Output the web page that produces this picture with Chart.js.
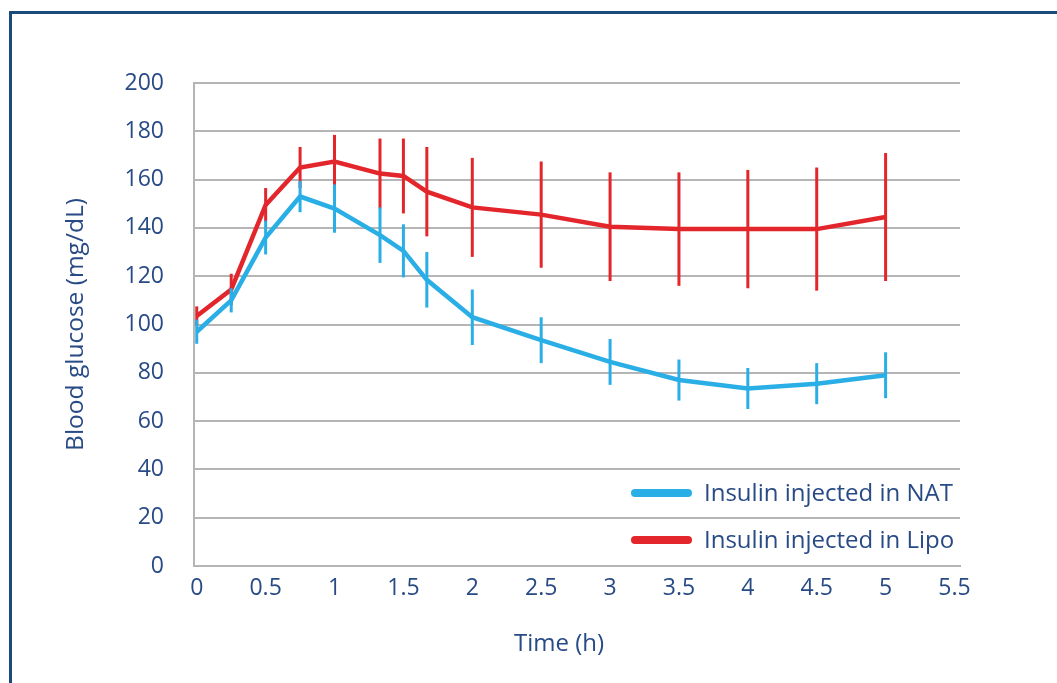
<!DOCTYPE html>
<html>
<head>
<meta charset="utf-8">
<script src="https://cdn.jsdelivr.net/npm/chart.js@4/dist/chart.umd.min.js"></script>
<style>
  html, body { margin: 0; padding: 0; background: #fff; overflow: hidden; }
  #frame {
    position: absolute; left: 9px; top: 11px; width: 1200px; height: 900px;
    border-top: 3px solid #1b4a7b; border-left: 3px solid #1b4a7b;
  }
  #glucoseChart { position: absolute; left: 0; top: 0; }
</style>
</head>
<body>
<div id="frame"></div>
<canvas id="glucoseChart" width="1057" height="683"></canvas>
<script>
// time points (h)
const times = [0, 0.25, 0.5, 0.75, 1, 1.33, 1.5, 1.67, 2, 2.5, 3, 3.5, 4, 4.5, 5];

// insulin injected in normal adipose tissue
const natMean = [97, 110, 136, 153, 148, 137, 130.5, 118.5, 103, 93.5, 84.5, 77, 73.5, 75.5, 79];
const natErr = [5, 5, 7, 6.5, 10, 11.5, 11, 11.5, 11.5, 9.5, 9.5, 8.5, 8.5, 8.5, 9.5];

// insulin injected in lipohypertrophy
const lipoMean = [103.5, 114.5, 149.5, 165, 167.5, 162.5, 161.5, 155, 148.5, 145.5, 140.5, 139.5, 139.5, 139.5, 144.5];
const lipoErr = [4, 6.5, 7, 8.5, 11, 14.5, 15.5, 18.5, 20.5, 22, 22.5, 23.5, 24.5, 25.5, 26.5];

const xTicks = [0, 0.5, 1, 1.5, 2, 2.5, 3, 3.5, 4, 4.5, 5, 5.5];
const yTicks = [0, 20, 40, 60, 80, 100, 120, 140, 160, 180, 200];

const textColor = "#284a85";
const gridColor = "#b5b5b5";
const font = "'Open Sans', sans-serif";

function points(means) {
  return times.map((t, i) => ({ x: t, y: means[i] }));
}

// vertical error bars, drawn right after each dataset so layering follows the lines
const errorBars = {
  id: "errorBars",
  afterDatasetDraw(chart, args) {
    const ds = chart.data.datasets[args.index];
    if (!ds.errors) return;
    const xs = chart.scales.x, ys = chart.scales.y;
    const c = chart.ctx;
    c.save();
    c.strokeStyle = ds.borderColor;
    c.lineWidth = 3;
    ds.data.forEach((p, i) => {
      const e = ds.errors[i];
      const px = xs.getPixelForValue(p.x);
      c.beginPath();
      c.moveTo(px, ys.getPixelForValue(p.y + e));
      c.lineTo(px, ys.getPixelForValue(p.y - e));
      c.stroke();
    });
    c.restore();
  }
};

// legend sits inside the plot, bottom right
const insideLegend = {
  id: "insideLegend",
  afterDraw(chart) {
    const c = chart.ctx;
    const area = chart.chartArea;
    const textX = area.right - 256;
    let y = area.bottom - 73;
    c.save();
    c.font = "24px " + font;
    c.textBaseline = "middle";
    c.fillStyle = textColor;
    chart.data.datasets.forEach(ds => {
      c.strokeStyle = ds.borderColor;
      c.lineWidth = 8;
      c.lineCap = "round";
      c.beginPath();
      c.moveTo(textX - 69, y);
      c.lineTo(textX - 16, y);
      c.stroke();
      c.fillText(ds.label, textX, y + 1);
      y += 47;
    });
    c.restore();
  }
};

new Chart(document.getElementById("glucoseChart"), {
  type: "line",
  data: {
    datasets: [
      {
        label: "Insulin injected in NAT",
        data: points(natMean),
        errors: natErr,
        borderColor: "#2aaee6",
        borderWidth: 4.5,
        pointRadius: 0,
        tension: 0
      },
      {
        label: "Insulin injected in Lipo",
        data: points(lipoMean),
        errors: lipoErr,
        borderColor: "#e3262b",
        borderWidth: 4.5,
        pointRadius: 0,
        tension: 0
      }
    ]
  },
  options: {
    responsive: false,
    animation: false,
    devicePixelRatio: 1,
    layout: { padding: { left: 0, top: 83, right: 97, bottom: 0 } },
    plugins: {
      legend: { display: false },
      tooltip: { enabled: false }
    },
    scales: {
      x: {
        type: "linear",
        min: -0.02,
        max: 5.54,
        afterBuildTicks: s => { s.ticks = xTicks.map(v => ({ value: v })); },
        afterFit: s => { s.height = 117; },
        grid: { display: false, drawTicks: false },
        border: { display: true, color: gridColor, width: 2 },
        ticks: {
          color: textColor,
          font: { family: font, size: 23 },
          padding: 9,
          maxRotation: 0,
          autoSkip: false,
          callback: v => String(Math.round(v * 10) / 10)
        },
        title: {
          display: true,
          // trailing en spaces nudge the centred title left, as in the original
          text: "Time (h)\u2002\u2002\u2002",
          color: textColor,
          font: { family: font, size: 24 },
          padding: { top: 0, bottom: 24 }
        }
      },
      y: {
        min: 0,
        max: 200,
        afterBuildTicks: s => { s.ticks = yTicks.map(v => ({ value: v })); },
        afterFit: s => { s.width = 194; },
        grid: { color: gridColor, lineWidth: 2, drawTicks: false },
        border: { display: true, color: gridColor, width: 2 },
        ticks: {
          color: textColor,
          font: { family: font, size: 23 },
          padding: 30
        },
        title: {
          display: true,
          text: "Blood glucose (mg/dL)",
          color: textColor,
          font: { family: font, size: 24.5 },
          padding: { top: 61, bottom: 0 }
        }
      }
    }
  },
  plugins: [errorBars, insideLegend]
});
</script>
</body>
</html>
